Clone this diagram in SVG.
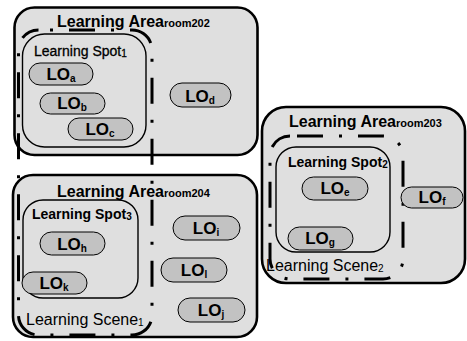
<svg xmlns="http://www.w3.org/2000/svg" width="467" height="341" viewBox="0 0 467 341">
  <style>
    .area { fill: #dfdfdf; stroke: #000; stroke-width: 2.6; }
    .spot { fill: #dfdfdf; stroke: #000; stroke-width: 1.4; }
    .scene { fill: none; stroke: #000; stroke-width: 3; stroke-dasharray: 26 16 3 16; }
    .lo { fill: #c2c2c2; stroke: #000; stroke-width: 1; }
    text { font-family: "Liberation Sans", Arial, sans-serif; fill: #000; }
    .areaT { font-size: 16px; font-weight: bold; }
    .areaS { font-size: 11px; font-weight: bold; }
    .spotT { font-size: 14px; font-weight: bold; }
    .spotR { font-size: 14px; stroke: #000; stroke-width: 0.3; }
    .loT { font-size: 17px; font-weight: bold; }
    .sub { font-size: 10px; }
    .sceneT { font-size: 16px; }
  </style>
  <rect width="467" height="341" fill="#fff"/>

  <!-- learning areas -->
  <g id="area-room202">
    <rect class="area" x="14.5" y="7.5" width="243" height="147.5" rx="20"/>
    <text class="areaT" x="57" y="27">Learning Area<tspan class="areaS">room202</tspan></text>
  </g>
  <g id="area-room204">
    <rect class="area" x="13" y="175" width="244" height="162" rx="20"/>
    <text class="areaT" x="57" y="197">Learning Area<tspan class="areaS">room204</tspan></text>
  </g>
  <g id="area-room203">
    <rect class="area" x="262" y="107" width="203" height="176" rx="24"/>
    <text class="areaT" x="289" y="127">Learning Area<tspan class="areaS">room203</tspan></text>
  </g>

  <!-- learning scenes (dash-dot outlines, drawn clockwise from the top edge) -->
  <g id="scene-1">
    <path class="scene" d="M38.5,30 H132 A20,20 0 0 1 152,50 V315 A20,20 0 0 1 132,335 H38.5 A20,20 0 0 1 18.5,315 V50 A20,20 0 0 1 38.5,30 Z" stroke-dashoffset="30.5"/>
    <text class="sceneT" x="26" y="325">Learning Scene<tspan class="sub" dy="1">1</tspan></text>
  </g>
  <g id="scene-2">
    <path class="scene" d="M290,136 H383 A20,20 0 0 1 403,156 V259 A20,20 0 0 1 383,279 H290 A20,20 0 0 1 270,259 V156 A20,20 0 0 1 290,136 Z" stroke-dashoffset="54"/>
    <text class="sceneT" x="266" y="271" font-size="15.3">Learning Scene<tspan class="sub" dy="1">2</tspan></text>
  </g>

  <!-- learning spots -->
  <g id="spot-1">
    <rect class="spot" x="22.5" y="34" width="123.5" height="113" rx="22"/>
    <text class="spotR" x="34" y="56">Learning Spot<tspan class="sub" dy="1">1</tspan></text>
  </g>
  <g id="spot-3">
    <rect class="spot" x="23" y="200" width="115" height="98" rx="20"/>
    <text class="spotT" x="32" y="219">Learning Spot<tspan class="sub" dy="1">3</tspan></text>
  </g>
  <g id="spot-2">
    <rect class="spot" x="276" y="147" width="114" height="105" rx="20"/>
    <text class="spotT" x="288" y="167">Learning Spot<tspan class="sub" dy="1">2</tspan></text>
  </g>

  <!-- learning objects -->
  <g id="lo-a">
    <rect class="lo" x="29" y="63" width="64" height="22" rx="11"/>
    <text class="loT" x="61" y="80" text-anchor="middle">LO<tspan class="sub" dy="2">a</tspan></text>
  </g>
  <g id="lo-b">
    <rect class="lo" x="40" y="93" width="65" height="21" rx="10.5"/>
    <text class="loT" x="72" y="109" text-anchor="middle">LO<tspan class="sub" dy="2">b</tspan></text>
  </g>
  <g id="lo-c">
    <rect class="lo" x="68" y="118" width="65" height="22" rx="11"/>
    <text class="loT" x="100" y="135" text-anchor="middle">LO<tspan class="sub" dy="2">c</tspan></text>
  </g>
  <g id="lo-d">
    <rect class="lo" x="170" y="83" width="61" height="24" rx="12"/>
    <text class="loT" x="200" y="102" text-anchor="middle" font-size="19">LO<tspan class="sub" dy="2">d</tspan></text>
  </g>
  <g id="lo-h">
    <rect class="lo" x="40" y="232" width="65" height="23" rx="11.5"/>
    <text class="loT" x="72" y="250" text-anchor="middle" font-size="19">LO<tspan class="sub" dy="2">h</tspan></text>
  </g>
  <g id="lo-k">
    <rect class="lo" x="22" y="272" width="65" height="22" rx="11"/>
    <text class="loT" x="54" y="289" text-anchor="middle">LO<tspan class="sub" dy="2">k</tspan></text>
  </g>
  <g id="lo-i">
    <rect class="lo" x="173" y="216" width="67" height="24" rx="12"/>
    <text class="loT" x="206" y="234" text-anchor="middle">LO<tspan class="sub" dy="2">i</tspan></text>
  </g>
  <g id="lo-l">
    <rect class="lo" x="161" y="258" width="66" height="24" rx="12"/>
    <text class="loT" x="194" y="276" text-anchor="middle">LO<tspan class="sub" dy="2">l</tspan></text>
  </g>
  <g id="lo-j">
    <rect class="lo" x="178" y="298" width="67" height="24" rx="12"/>
    <text class="loT" x="211" y="316" text-anchor="middle" font-size="15">LO<tspan class="sub" dy="2">j</tspan></text>
  </g>
  <g id="lo-e">
    <rect class="lo" x="302" y="177" width="66" height="23" rx="11.5"/>
    <text class="loT" x="335" y="194" text-anchor="middle">LO<tspan class="sub" dy="2">e</tspan></text>
  </g>
  <g id="lo-g">
    <rect class="lo" x="288" y="227" width="65" height="23" rx="11.5"/>
    <text class="loT" x="320" y="244" text-anchor="middle">LO<tspan class="sub" dy="2">g</tspan></text>
  </g>
  <g id="lo-f">
    <rect class="lo" x="401" y="187" width="62" height="21" rx="10.5"/>
    <text class="loT" x="432" y="203" text-anchor="middle" font-size="16">LO<tspan class="sub" dy="2">f</tspan></text>
  </g>
</svg>
